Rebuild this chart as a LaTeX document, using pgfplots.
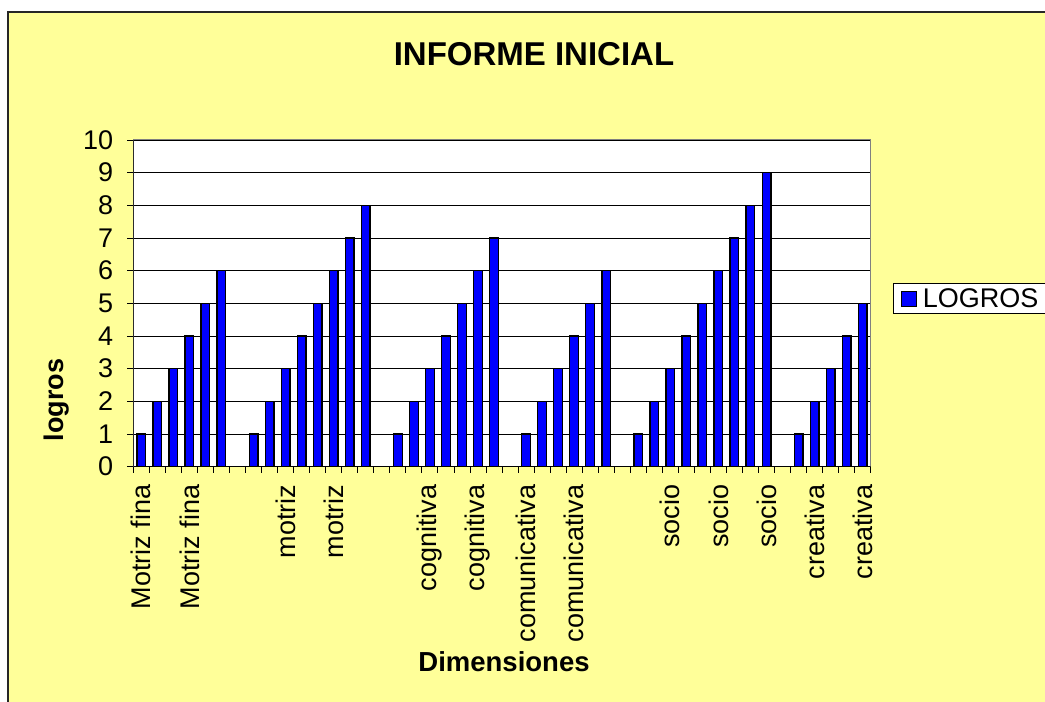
\documentclass[border=0pt]{standalone}
\usepackage{pgfplots}
\pgfplotsset{compat=1.18}
\usepackage{fontspec}
\setmainfont{Liberation Sans}
\definecolor{bgyellow}{RGB}{255,255,153}
\definecolor{barblue}{RGB}{0,0,255}
\begin{document}
\begin{tikzpicture}[x=1pt,y=1pt]
\useasboundingbox (0,0) rectangle (1045,702);
\fill[white] (0,0) rectangle (1045,702);
\fill[bgyellow] (8,-10) rectangle (1060,690);
\draw[line width=1.5pt, black!85] (8,-10) -- (8,690) -- (1060,690);
\begin{axis}[
  at={(133.3pt,235.3pt)}, anchor=south west,
  scale only axis, width=737.4pt, height=326.7pt,
  xmin=-0.5, xmax=45.5, ymin=0, ymax=10,
  ytick={0,1,...,10},
  ymajorgrids, major grid style={black, line width=0.8pt},
  axis background/.style={fill=white},
  axis line style={draw=gray, line width=1pt},
  tick align=outside, tick pos=left,
  major tick length=6pt,
  tick style={black, line width=0.8pt},
  xtick={-0.5,0.5,...,45.5},
  xticklabels={},
  extra x ticks={0,3,9,12,18,21,24,27,33,36,39,42,45},
  extra x tick labels={Motriz fina, Motriz fina, motriz, motriz, cognitiva, cognitiva, comunicativa, comunicativa, socio, socio, socio, creativa, creativa},
  extra x tick style={tick style={draw=none}},
  /pgf/number format/assume math mode=true,
  tick label style={font=\fontsize{27}{32}\selectfont},
  xticklabel style={rotate=90, anchor=east, inner sep=0pt},
  xticklabel shift=12pt,
  yticklabel style={inner sep=0pt},
  yticklabel shift=14pt,
  legend style={at={(1.030,0.562)}, anchor=north west, draw=black, line width=1pt, fill=white, font=\fontsize{27}{32}\selectfont, inner xsep=8pt, inner ysep=3pt},
  legend image code/.code={\draw[fill=barblue, draw=black, line width=1pt] (0pt,-7.5pt) rectangle (15pt,7.5pt); \path[draw=none, fill=none] (0pt,0pt) rectangle (19pt,0.1pt);},
]
\addplot[ybar, bar width=8.7pt, fill=barblue, draw=black, line width=1.3pt] coordinates {
(0,1)(1,2)(2,3)(3,4)(4,5)(5,6)
(7,1)(8,2)(9,3)(10,4)(11,5)(12,6)(13,7)(14,8)
(16,1)(17,2)(18,3)(19,4)(20,5)(21,6)(22,7)
(24,1)(25,2)(26,3)(27,4)(28,5)(29,6)
(31,1)(32,2)(33,3)(34,4)(35,5)(36,6)(37,7)(38,8)(39,9)
(41,1)(42,2)(43,3)(44,4)(45,5)
};
\addlegendentry{LOGROS}
\draw[black, line width=1pt] (rel axis cs:0,1) -- (rel axis cs:0,0) -- (rel axis cs:1,0);
\end{axis}
\node[anchor=base, font=\bfseries\fontsize{33}{38}\selectfont] at (534,636) {INFORME INICIAL};
\node[anchor=base, font=\bfseries\fontsize{27.5}{32}\selectfont] at (504,30) {Dimensiones};
\node[rotate=90, anchor=base, font=\bfseries\fontsize{27}{32}\selectfont] at (63,302) {logros};
\end{tikzpicture}
\end{document}
